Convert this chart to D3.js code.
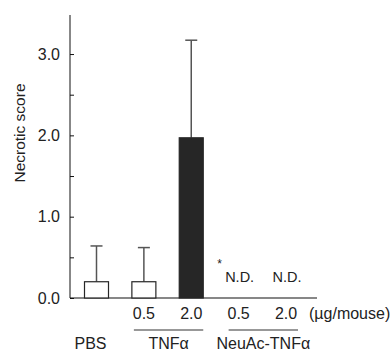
<!DOCTYPE html>
<html><head><meta charset="utf-8">
<script src="https://cdn.jsdelivr.net/npm/d3@7"></script>
<style>
html,body{margin:0;padding:0;background:#fff;}
text{font-family:"Liberation Sans",Arial,Helvetica,sans-serif;fill:#222;}
</style></head>
<body><svg id="c" width="390" height="351"></svg>
<script>
const categories = ["PBS", "TNFα 0.5", "TNFα 2.0", "NeuAc-TNFα 0.5", "NeuAc-TNFα 2.0"];
const doseLabels = ["", "0.5", "2.0", "0.5", "2.0"];
const means = [0.2, 0.2, 1.97, null, null];
const sds = [0.44, 0.42, 1.2, null, null];
const fills = ["#fff", "#fff", "#262626", null, null];
const ndLabels = ["", "", "", "N.D.", "N.D."];
const groupNames = ["PBS", "TNFα", "NeuAc-TNFα"];
const groupMembers = [[0], [1, 2], [3, 4]];
const yTicks = [0, 0.5, 1.0, 1.5, 2.0, 2.5, 3.0];
const yTickLabels = ["0.0", "", "1.0", "", "2.0", "", "3.0"];
const unitLabel = "(µg/mouse)";
const yTitle = "Necrotic score";

const svg = d3.select("#c");
const x = d3.scalePoint().domain(categories).range([96.5, 286]);
const y = d3.scaleLinear().domain([0, 3.48]).range([298, 15]);
const bw = 24;

// y axis
const yAxis = d3.axisLeft(y).tickValues(yTicks).tickSize(-4).tickPadding(10)
  .tickFormat((d, i) => yTickLabels[i]);
const ga = svg.append("g").attr("transform", "translate(70,0)").call(yAxis);
ga.select(".domain").attr("d", `M0,${y(3.48)}V${y(0)}`).attr("stroke", "#111");
ga.selectAll(".tick line").attr("stroke", "#111");
ga.selectAll(".tick text").attr("font-size", 16).attr("fill", "#222")
  .style("font-family", '"Liberation Sans",Arial,sans-serif');

// y title
svg.append("text").attr("transform", `translate(25,${133}) rotate(-90)`)
  .attr("text-anchor", "middle").attr("font-size", 15.5).text(yTitle);

// baseline
svg.append("line").attr("x1", 70).attr("x2", 317).attr("y1", y(0)).attr("y2", y(0))
  .attr("stroke", "#111").attr("stroke-width", 1.2);

// error bars (upper only)
categories.forEach((c, i) => {
  if (means[i] == null) return;
  const cx = x(c);
  svg.append("line").attr("x1", cx).attr("x2", cx).attr("y1", y(means[i])).attr("y2", y(means[i] + sds[i]))
    .attr("stroke", "#555").attr("stroke-width", 1.5);
  svg.append("line").attr("x1", cx - 6).attr("x2", cx + 6).attr("y1", y(means[i] + sds[i])).attr("y2", y(means[i] + sds[i]))
    .attr("stroke", "#555").attr("stroke-width", 1.5);
});

// bars
categories.forEach((c, i) => {
  if (means[i] == null) return;
  svg.append("rect").attr("x", x(c) - bw / 2).attr("y", y(means[i]))
    .attr("width", bw).attr("height", y(0) - y(means[i]))
    .attr("fill", fills[i]).attr("stroke", "#262626").attr("stroke-width", 1.2);
});

// N.D. labels
categories.forEach((c, i) => {
  if (!ndLabels[i]) return;
  svg.append("text").attr("x", x(c) + 1).attr("y", 282).attr("text-anchor", "middle")
    .attr("font-size", 14.5).text(ndLabels[i]);
});
svg.append("text").attr("x", x(categories[3]) - 19).attr("y", 268).attr("text-anchor", "middle")
  .attr("font-size", 12).text("*");

// dose labels
categories.forEach((c, i) => {
  if (!doseLabels[i]) return;
  svg.append("text").attr("x", x(c)).attr("y", 319).attr("text-anchor", "middle")
    .attr("font-size", 16).text(doseLabels[i]);
});
svg.append("text").attr("x", 309).attr("y", 319).attr("font-size", 16).text(unitLabel);

// group lines & labels
groupNames.forEach((g, gi) => {
  const m = groupMembers[gi];
  const x0 = x(categories[m[0]]), x1 = x(categories[m[m.length - 1]]);
  if (m.length > 1) {
    svg.append("line").attr("x1", x0 - 10).attr("x2", x1 + 12).attr("y1", 330).attr("y2", 330)
      .attr("stroke", "#333").attr("stroke-width", 1.2);
  }
  svg.append("text").attr("x", m.length > 1 ? (x0 + x1) / 2 + 1 : x0 - 6).attr("y", 349)
    .attr("text-anchor", "middle").attr("font-size", 16).text(g);
});
</script></body></html>
